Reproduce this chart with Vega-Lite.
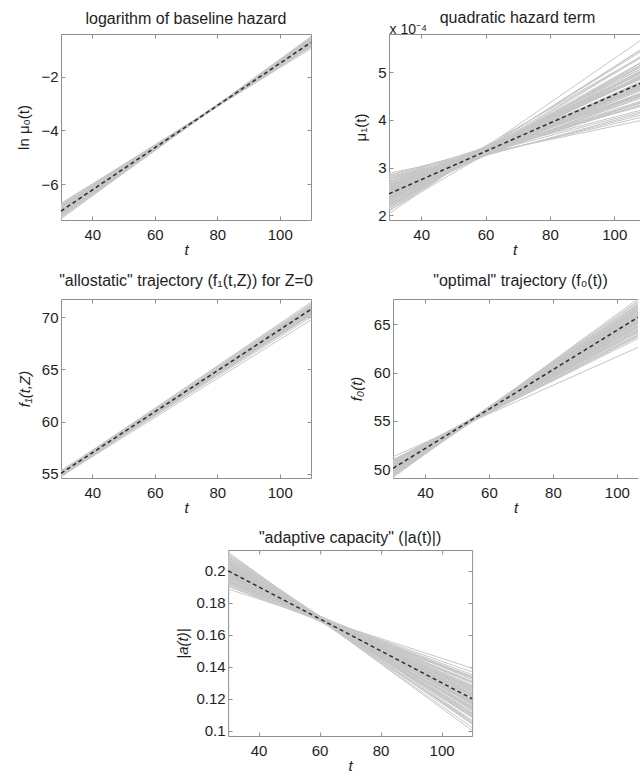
{
"$schema":"https://vega.github.io/schema/vega-lite/v6.json",
"padding":{"left":16,"top":9,"right":0,"bottom":0},
"datasets":{
"p1":[{"t0":30,"t1":110,"y0":-7.285,"y1":-0.505},{"t0":30,"t1":110,"y0":-7.24,"y1":-0.60},{"t0":30,"t1":110,"y0":-7.21,"y1":-0.57},{"t0":30,"t1":110,"y0":-7.19,"y1":-0.545},{"t0":30,"t1":110,"y0":-7.165,"y1":-0.625},{"t0":30,"t1":110,"y0":-7.15,"y1":-0.585},{"t0":30,"t1":110,"y0":-7.135,"y1":-0.68},{"t0":30,"t1":110,"y0":-7.12,"y1":-0.635},{"t0":30,"t1":110,"y0":-7.105,"y1":-0.605},{"t0":30,"t1":110,"y0":-7.09,"y1":-0.69},{"t0":30,"t1":110,"y0":-7.075,"y1":-0.65},{"t0":30,"t1":110,"y0":-7.068,"y1":-0.685},{"t0":30,"t1":110,"y0":-7.06,"y1":-0.64},{"t0":30,"t1":110,"y0":-7.045,"y1":-0.735},{"t0":30,"t1":110,"y0":-7.038,"y1":-0.68},{"t0":30,"t1":110,"y0":-7.03,"y1":-0.725},{"t0":30,"t1":110,"y0":-7.022,"y1":-0.675},{"t0":30,"t1":110,"y0":-7.015,"y1":-0.71},{"t0":30,"t1":110,"y0":-7.008,"y1":-0.75},{"t0":30,"t1":110,"y0":-7.0,"y1":-0.67},{"t0":30,"t1":110,"y0":-6.992,"y1":-0.745},{"t0":30,"t1":110,"y0":-6.985,"y1":-0.72},{"t0":30,"t1":110,"y0":-6.978,"y1":-0.785},{"t0":30,"t1":110,"y0":-6.97,"y1":-0.705},{"t0":30,"t1":110,"y0":-6.955,"y1":-0.755},{"t0":30,"t1":110,"y0":-6.948,"y1":-0.73},{"t0":30,"t1":110,"y0":-6.94,"y1":-0.80},{"t0":30,"t1":110,"y0":-6.925,"y1":-0.725},{"t0":30,"t1":110,"y0":-6.918,"y1":-0.79},{"t0":30,"t1":110,"y0":-6.902,"y1":-0.78},{"t0":30,"t1":110,"y0":-6.895,"y1":-0.82},{"t0":30,"t1":110,"y0":-6.88,"y1":-0.78},{"t0":30,"t1":110,"y0":-6.865,"y1":-0.76},{"t0":30,"t1":110,"y0":-6.85,"y1":-0.865},{"t0":30,"t1":110,"y0":-6.835,"y1":-0.815},{"t0":30,"t1":110,"y0":-6.82,"y1":-0.85},{"t0":30,"t1":110,"y0":-6.798,"y1":-0.815},{"t0":30,"t1":110,"y0":-6.775,"y1":-0.895},{"t0":30,"t1":110,"y0":-6.745,"y1":-0.86},{"t0":30,"t1":110,"y0":-6.708,"y1":-0.95}],
"p1m":[{"t0":30,"t1":110,"y0":-7.0,"y1":-0.72}],
"p2":[{"t0":30,"t1":110,"y0":2.032,"y1":5.75},{"t0":30,"t1":110,"y0":2.098,"y1":5.55},{"t0":30,"t1":110,"y0":2.142,"y1":5.372},{"t0":30,"t1":110,"y0":2.175,"y1":5.395},{"t0":30,"t1":110,"y0":2.208,"y1":5.208},{"t0":30,"t1":110,"y0":2.23,"y1":5.27},{"t0":30,"t1":110,"y0":2.252,"y1":5.062},{"t0":30,"t1":110,"y0":2.274,"y1":5.134},{"t0":30,"t1":110,"y0":2.296,"y1":5.176},{"t0":30,"t1":110,"y0":2.318,"y1":4.988},{"t0":30,"t1":110,"y0":2.34,"y1":5.05},{"t0":30,"t1":110,"y0":2.351,"y1":4.971},{"t0":30,"t1":110,"y0":2.362,"y1":5.052},{"t0":30,"t1":110,"y0":2.384,"y1":4.844},{"t0":30,"t1":110,"y0":2.395,"y1":4.945},{"t0":30,"t1":110,"y0":2.406,"y1":4.846},{"t0":30,"t1":110,"y0":2.417,"y1":4.937},{"t0":30,"t1":110,"y0":2.428,"y1":4.858},{"t0":30,"t1":110,"y0":2.439,"y1":4.769},{"t0":30,"t1":110,"y0":2.45,"y1":4.92},{"t0":30,"t1":110,"y0":2.461,"y1":4.761},{"t0":30,"t1":110,"y0":2.472,"y1":4.802},{"t0":30,"t1":110,"y0":2.483,"y1":4.663},{"t0":30,"t1":110,"y0":2.494,"y1":4.814},{"t0":30,"t1":110,"y0":2.516,"y1":4.696},{"t0":30,"t1":110,"y0":2.527,"y1":4.737},{"t0":30,"t1":110,"y0":2.538,"y1":4.588},{"t0":30,"t1":110,"y0":2.56,"y1":4.72},{"t0":30,"t1":110,"y0":2.571,"y1":4.581},{"t0":30,"t1":110,"y0":2.593,"y1":4.583},{"t0":30,"t1":110,"y0":2.604,"y1":4.494},{"t0":30,"t1":110,"y0":2.626,"y1":4.556},{"t0":30,"t1":110,"y0":2.648,"y1":4.578},{"t0":30,"t1":110,"y0":2.67,"y1":4.35},{"t0":30,"t1":110,"y0":2.692,"y1":4.432},{"t0":30,"t1":110,"y0":2.714,"y1":4.344},{"t0":30,"t1":110,"y0":2.747,"y1":4.387},{"t0":30,"t1":110,"y0":2.78,"y1":4.2},{"t0":30,"t1":110,"y0":2.824,"y1":4.234},{"t0":30,"t1":110,"y0":2.879,"y1":4.009},
{"t0":30,"t1":110,"y0":2.095,"y1":5.26},{"t0":30,"t1":110,"y0":2.102,"y1":5.54},{"t0":30,"t1":110,"y0":2.212,"y1":5.214},{"t0":30,"t1":110,"y0":2.15,"y1":5.501},{"t0":30,"t1":110,"y0":2.231,"y1":5.044},{"t0":30,"t1":110,"y0":2.187,"y1":5.256},{"t0":30,"t1":110,"y0":2.287,"y1":5.393},{"t0":30,"t1":110,"y0":2.327,"y1":4.98},{"t0":30,"t1":110,"y0":2.277,"y1":5.092},{"t0":30,"t1":110,"y0":2.335,"y1":4.779},{"t0":30,"t1":110,"y0":2.296,"y1":5.177},{"t0":30,"t1":110,"y0":2.394,"y1":4.93},{"t0":30,"t1":110,"y0":2.367,"y1":5.078},{"t0":30,"t1":110,"y0":2.442,"y1":4.726},{"t0":30,"t1":110,"y0":2.378,"y1":5.129},{"t0":30,"t1":110,"y0":2.428,"y1":4.938},{"t0":30,"t1":110,"y0":2.382,"y1":4.716},{"t0":30,"t1":110,"y0":2.492,"y1":4.95},{"t0":30,"t1":110,"y0":2.434,"y1":4.753},{"t0":30,"t1":110,"y0":2.484,"y1":5.012},{"t0":30,"t1":110,"y0":2.468,"y1":4.565},{"t0":30,"t1":110,"y0":2.44,"y1":4.774},{"t0":30,"t1":110,"y0":2.538,"y1":4.902},{"t0":30,"t1":110,"y0":2.48,"y1":4.561},{"t0":30,"t1":110,"y0":2.524,"y1":4.964},{"t0":30,"t1":110,"y0":2.46,"y1":4.673},{"t0":30,"t1":110,"y0":2.57,"y1":4.751},{"t0":30,"t1":110,"y0":2.519,"y1":4.524},{"t0":30,"t1":110,"y0":2.588,"y1":4.797},{"t0":30,"t1":110,"y0":2.636,"y1":4.392},{"t0":30,"t1":110,"y0":2.552,"y1":4.612},{"t0":30,"t1":110,"y0":2.621,"y1":4.76},{"t0":30,"t1":110,"y0":2.613,"y1":4.397},{"t0":30,"t1":110,"y0":2.701,"y1":4.584},{"t0":30,"t1":110,"y0":2.699,"y1":4.171},{"t0":30,"t1":110,"y0":2.649,"y1":4.408},{"t0":30,"t1":110,"y0":2.762,"y1":4.534},{"t0":30,"t1":110,"y0":2.75,"y1":4.13},{"t0":30,"t1":110,"y0":2.838,"y1":4.312},{"t0":30,"t1":110,"y0":2.808,"y1":4.078}],
"p2m":[{"t0":30,"t1":110,"y0":2.45,"y1":4.82}],
"p3":[{"t0":30,"t1":110,"y0":54.715,"y1":70.495},{"t0":30,"t1":110,"y0":54.76,"y1":69.75},{"t0":30,"t1":110,"y0":54.79,"y1":70.46},{"t0":30,"t1":110,"y0":54.81,"y1":70.85},{"t0":30,"t1":110,"y0":54.835,"y1":70.295},{"t0":30,"t1":110,"y0":54.85,"y1":70.765},{"t0":30,"t1":110,"y0":54.865,"y1":70.02},{"t0":30,"t1":110,"y0":54.88,"y1":70.535},{"t0":30,"t1":110,"y0":54.895,"y1":70.915},{"t0":30,"t1":110,"y0":54.91,"y1":70.26},{"t0":30,"t1":110,"y0":54.925,"y1":70.73},{"t0":30,"t1":110,"y0":54.93,"y1":70.47},{"t0":30,"t1":110,"y0":54.94,"y1":70.93},{"t0":30,"t1":110,"y0":54.955,"y1":70.185},{"t0":30,"t1":110,"y0":54.96,"y1":70.735},{"t0":30,"t1":110,"y0":54.97,"y1":70.385},{"t0":30,"t1":110,"y0":54.98,"y1":70.89},{"t0":30,"t1":110,"y0":54.985,"y1":70.63},{"t0":30,"t1":110,"y0":54.99,"y1":70.325},{"t0":30,"t1":110,"y0":55.0,"y1":71.1},{"t0":30,"t1":110,"y0":55.01,"y1":70.48},{"t0":30,"t1":110,"y0":55.015,"y1":70.76},{"t0":30,"t1":110,"y0":55.02,"y1":70.23},{"t0":30,"t1":110,"y0":55.03,"y1":71.005},{"t0":30,"t1":110,"y0":55.045,"y1":70.665},{"t0":30,"t1":110,"y0":55.05,"y1":70.945},{"t0":30,"t1":110,"y0":55.06,"y1":70.37},{"t0":30,"t1":110,"y0":55.075,"y1":71.155},{"t0":30,"t1":110,"y0":55.08,"y1":70.625},{"t0":30,"t1":110,"y0":55.1,"y1":70.825},{"t0":30,"t1":110,"y0":55.105,"y1":70.52},{"t0":30,"t1":110,"y0":55.12,"y1":70.99},{"t0":30,"t1":110,"y0":55.135,"y1":71.45},{"t0":30,"t1":110,"y0":55.15,"y1":70.445},{"t0":30,"t1":110,"y0":55.165,"y1":71.005},{"t0":30,"t1":110,"y0":55.18,"y1":70.8},{"t0":30,"t1":110,"y0":55.2,"y1":71.28},{"t0":30,"t1":110,"y0":55.225,"y1":70.725},{"t0":30,"t1":110,"y0":55.255,"y1":71.26},{"t0":30,"t1":110,"y0":55.29,"y1":70.725}],
"p3m":[{"t0":30,"t1":110,"y0":55.04,"y1":70.77}],
"p4":[{"t0":30,"t1":110,"y0":49.15,"y1":68.44},{"t0":30,"t1":110,"y0":49.3,"y1":67.72},{"t0":30,"t1":110,"y0":49.4,"y1":67.8},{"t0":30,"t1":110,"y0":49.475,"y1":67.875},{"t0":30,"t1":110,"y0":49.55,"y1":67.32},{"t0":30,"t1":110,"y0":49.6,"y1":67.51},{"t0":30,"t1":110,"y0":49.65,"y1":66.89},{"t0":30,"t1":110,"y0":49.7,"y1":67.11},{"t0":30,"t1":110,"y0":49.75,"y1":67.24},{"t0":30,"t1":110,"y0":49.8,"y1":66.68},{"t0":30,"t1":110,"y0":49.85,"y1":66.87},{"t0":30,"t1":110,"y0":49.875,"y1":66.635},{"t0":30,"t1":110,"y0":49.9,"y1":66.88},{"t0":30,"t1":110,"y0":49.95,"y1":66.26},{"t0":30,"t1":110,"y0":49.975,"y1":66.565},{"t0":30,"t1":110,"y0":50.0,"y1":66.27},{"t0":30,"t1":110,"y0":50.025,"y1":66.545},{"t0":30,"t1":110,"y0":50.05,"y1":66.31},{"t0":30,"t1":110,"y0":50.075,"y1":66.045},{"t0":30,"t1":110,"y0":50.1,"y1":66.5},{"t0":30,"t1":110,"y0":50.125,"y1":66.025},{"t0":30,"t1":110,"y0":50.15,"y1":66.15},{"t0":30,"t1":110,"y0":50.175,"y1":65.735},{"t0":30,"t1":110,"y0":50.2,"y1":66.19},{"t0":30,"t1":110,"y0":50.25,"y1":65.84},{"t0":30,"t1":110,"y0":50.275,"y1":65.965},{"t0":30,"t1":110,"y0":50.3,"y1":65.52},{"t0":30,"t1":110,"y0":50.35,"y1":65.92},{"t0":30,"t1":110,"y0":50.375,"y1":65.505},{"t0":30,"t1":110,"y0":50.425,"y1":65.515},{"t0":30,"t1":110,"y0":50.45,"y1":65.25},{"t0":30,"t1":110,"y0":50.5,"y1":65.44},{"t0":30,"t1":110,"y0":50.55,"y1":65.51},{"t0":30,"t1":110,"y0":50.6,"y1":64.83},{"t0":30,"t1":110,"y0":50.65,"y1":65.08},{"t0":30,"t1":110,"y0":50.7,"y1":64.82},{"t0":30,"t1":110,"y0":50.775,"y1":64.955},{"t0":30,"t1":110,"y0":50.85,"y1":64.4},{"t0":30,"t1":110,"y0":50.95,"y1":64.51},{"t0":30,"t1":110,"y0":51.3,"y1":63.1},
{"t0":30,"t1":110,"y0":49.285,"y1":67.585},{"t0":30,"t1":110,"y0":49.314,"y1":68.21},{"t0":30,"t1":110,"y0":49.546,"y1":67.39},{"t0":30,"t1":110,"y0":49.428,"y1":68.06},{"t0":30,"t1":110,"y0":49.599,"y1":66.935},{"t0":30,"t1":110,"y0":49.517,"y1":67.425},{"t0":30,"t1":110,"y0":49.723,"y1":67.735},{"t0":30,"t1":110,"y0":49.809,"y1":66.725},{"t0":30,"t1":110,"y0":49.715,"y1":66.975},{"t0":30,"t1":110,"y0":49.837,"y1":66.205},{"t0":30,"t1":110,"y0":49.764,"y1":67.148},{"t0":30,"t1":110,"y0":49.962,"y1":66.542},{"t0":30,"t1":110,"y0":49.913,"y1":66.885},{"t0":30,"t1":110,"y0":50.068,"y1":66.028},{"t0":30,"t1":110,"y0":49.942,"y1":66.982},{"t0":30,"t1":110,"y0":50.046,"y1":66.518},{"t0":30,"t1":110,"y0":49.956,"y1":65.972},{"t0":30,"t1":110,"y0":50.18,"y1":66.528},{"t0":30,"t1":110,"y0":50.066,"y1":66.042},{"t0":30,"t1":110,"y0":50.17,"y1":66.658},{"t0":30,"t1":110,"y0":50.14,"y1":65.572},{"t0":30,"t1":110,"y0":50.088,"y1":66.068},{"t0":30,"t1":110,"y0":50.286,"y1":66.362},{"t0":30,"t1":110,"y0":50.174,"y1":65.538},{"t0":30,"t1":110,"y0":50.264,"y1":66.492},{"t0":30,"t1":110,"y0":50.14,"y1":65.788},{"t0":30,"t1":110,"y0":50.362,"y1":65.962},{"t0":30,"t1":110,"y0":50.265,"y1":65.405},{"t0":30,"t1":110,"y0":50.408,"y1":66.048},{"t0":30,"t1":110,"y0":50.508,"y1":65.06},{"t0":30,"t1":110,"y0":50.344,"y1":65.572},{"t0":30,"t1":110,"y0":50.487,"y1":65.915},{"t0":30,"t1":110,"y0":50.477,"y1":65.025},{"t0":30,"t1":110,"y0":50.659,"y1":65.455},{"t0":30,"t1":110,"y0":50.661,"y1":64.445},{"t0":30,"t1":110,"y0":50.567,"y1":64.995},{"t0":30,"t1":110,"y0":50.8,"y1":65.272},{"t0":30,"t1":110,"y0":50.786,"y1":64.278},{"t0":30,"t1":110,"y0":50.972,"y1":64.68},{"t0":30,"t1":110,"y0":50.926,"y1":64.078}],
"p4m":[{"t0":30,"t1":110,"y0":50.1,"y1":66.4}],
"p5":[{"t0":30,"t1":110,"y0":0.1886,"y1":0.1391},{"t0":30,"t1":110,"y0":0.1904,"y1":0.1336},{"t0":30,"t1":110,"y0":0.1916,"y1":0.1337},{"t0":30,"t1":110,"y0":0.1925,"y1":0.1339},{"t0":30,"t1":110,"y0":0.1934,"y1":0.1298},{"t0":30,"t1":110,"y0":0.194,"y1":0.1309},{"t0":30,"t1":110,"y0":0.1946,"y1":0.1266},{"t0":30,"t1":110,"y0":0.1952,"y1":0.1278},{"t0":30,"t1":110,"y0":0.1958,"y1":0.1285},{"t0":30,"t1":110,"y0":0.1964,"y1":0.1245},{"t0":30,"t1":110,"y0":0.197,"y1":0.1256},{"t0":30,"t1":110,"y0":0.1973,"y1":0.1239},{"t0":30,"t1":110,"y0":0.1976,"y1":0.1254},{"t0":30,"t1":110,"y0":0.1982,"y1":0.1211},{"t0":30,"t1":110,"y0":0.1985,"y1":0.123},{"t0":30,"t1":110,"y0":0.1988,"y1":0.1209},{"t0":30,"t1":110,"y0":0.1991,"y1":0.1226},{"t0":30,"t1":110,"y0":0.1994,"y1":0.121},{"t0":30,"t1":110,"y0":0.1997,"y1":0.1191},{"t0":30,"t1":110,"y0":0.2,"y1":0.122},{"t0":30,"t1":110,"y0":0.2003,"y1":0.1187},{"t0":30,"t1":110,"y0":0.2006,"y1":0.1195},{"t0":30,"t1":110,"y0":0.2009,"y1":0.1166},{"t0":30,"t1":110,"y0":0.2012,"y1":0.1195},{"t0":30,"t1":110,"y0":0.2018,"y1":0.117},{"t0":30,"t1":110,"y0":0.2021,"y1":0.1177},{"t0":30,"t1":110,"y0":0.2024,"y1":0.1146},{"t0":30,"t1":110,"y0":0.203,"y1":0.1171},{"t0":30,"t1":110,"y0":0.2033,"y1":0.1142},{"t0":30,"t1":110,"y0":0.2039,"y1":0.114},{"t0":30,"t1":110,"y0":0.2042,"y1":0.1121},{"t0":30,"t1":110,"y0":0.2048,"y1":0.1132},{"t0":30,"t1":110,"y0":0.2054,"y1":0.1135},{"t0":30,"t1":110,"y0":0.206,"y1":0.1087},{"t0":30,"t1":110,"y0":0.2066,"y1":0.1102},{"t0":30,"t1":110,"y0":0.2072,"y1":0.1082},{"t0":30,"t1":110,"y0":0.2081,"y1":0.1088},{"t0":30,"t1":110,"y0":0.209,"y1":0.1048},{"t0":30,"t1":110,"y0":0.2102,"y1":0.1051},{"t0":30,"t1":110,"y0":0.2117,"y1":0.1001},
{"t0":30,"t1":110,"y0":0.1903,"y1":0.133},{"t0":30,"t1":110,"y0":0.1906,"y1":0.1367},{"t0":30,"t1":110,"y0":0.1934,"y1":0.1308},{"t0":30,"t1":110,"y0":0.1919,"y1":0.135},{"t0":30,"t1":110,"y0":0.194,"y1":0.1272},{"t0":30,"t1":110,"y0":0.193,"y1":0.1302},{"t0":30,"t1":110,"y0":0.1955,"y1":0.1321},{"t0":30,"t1":110,"y0":0.1966,"y1":0.1251},{"t0":30,"t1":110,"y0":0.1954,"y1":0.1266},{"t0":30,"t1":110,"y0":0.1969,"y1":0.1212},{"t0":30,"t1":110,"y0":0.1959,"y1":0.1274},{"t0":30,"t1":110,"y0":0.1984,"y1":0.1232},{"t0":30,"t1":110,"y0":0.1978,"y1":0.1253},{"t0":30,"t1":110,"y0":0.1997,"y1":0.1195},{"t0":30,"t1":110,"y0":0.1981,"y1":0.1257},{"t0":30,"t1":110,"y0":0.1994,"y1":0.1225},{"t0":30,"t1":110,"y0":0.1982,"y1":0.1187},{"t0":30,"t1":110,"y0":0.201,"y1":0.1224},{"t0":30,"t1":110,"y0":0.1996,"y1":0.119},{"t0":30,"t1":110,"y0":0.2009,"y1":0.123},{"t0":30,"t1":110,"y0":0.2005,"y1":0.1156},{"t0":30,"t1":110,"y0":0.1998,"y1":0.1189},{"t0":30,"t1":110,"y0":0.2023,"y1":0.1207},{"t0":30,"t1":110,"y0":0.2009,"y1":0.1151},{"t0":30,"t1":110,"y0":0.202,"y1":0.1213},{"t0":30,"t1":110,"y0":0.2004,"y1":0.1166},{"t0":30,"t1":110,"y0":0.2032,"y1":0.1176},{"t0":30,"t1":110,"y0":0.202,"y1":0.1137},{"t0":30,"t1":110,"y0":0.2037,"y1":0.1179},{"t0":30,"t1":110,"y0":0.205,"y1":0.1111},{"t0":30,"t1":110,"y0":0.2029,"y1":0.1143},{"t0":30,"t1":110,"y0":0.2047,"y1":0.1165},{"t0":30,"t1":110,"y0":0.2045,"y1":0.1103},{"t0":30,"t1":110,"y0":0.2068,"y1":0.113},{"t0":30,"t1":110,"y0":0.2068,"y1":0.106},{"t0":30,"t1":110,"y0":0.2056,"y1":0.1095},{"t0":30,"t1":110,"y0":0.2084,"y1":0.111},{"t0":30,"t1":110,"y0":0.2082,"y1":0.1041},{"t0":30,"t1":110,"y0":0.2105,"y1":0.1064},{"t0":30,"t1":110,"y0":0.2099,"y1":0.1019}],
"p5m":[{"t0":30,"t1":110,"y0":0.2,"y1":0.12}]
},
"vconcat":[
{"vconcat":[
{"hconcat":[
{"width":250,"height":186,"title":{"text":"logarithm of baseline hazard","offset":7},
"layer":[
{"data":{"name":"p1"},"mark":{"type":"rule","color":"#c6c6c6","strokeWidth":1},
"encoding":{"x":{"field":"t0","type":"quantitative","scale":{"domain":[30,110],"nice":false,"zero":false},"axis":{"values":[40,60,80,100],"title":"t","titleFontStyle":"italic"}},"x2":{"field":"t1"},
"y":{"field":"y0","type":"quantitative","scale":{"domain":[-7.33,-0.41],"nice":false,"zero":false},"axis":{"values":[-6,-4,-2],"title":"ln μ₀(t)"}},"y2":{"field":"y1"}}},
{"data":{"name":"p1m"},"mark":{"type":"rule","color":"#2b2b2b","strokeWidth":1.5,"strokeDash":[4,3]},
"encoding":{"x":{"field":"t0","type":"quantitative","axis":null},"x2":{"field":"t1"},"y":{"field":"y0","type":"quantitative","axis":null},"y2":{"field":"y1"}}},
{"data":{"name":"p1m"},"mark":{"type":"rule","opacity":0},
"encoding":{"x":{"field":"t0","type":"quantitative","axis":{"orient":"top","values":[40,60,80,100],"labels":false,"title":null}},"x2":{"field":"t1"},"y":{"field":"y0","type":"quantitative","axis":{"orient":"right","values":[-6,-4,-2],"labels":false,"title":null}},"y2":{"field":"y1"}}}
],
"resolve":{"axis":{"x":"independent","y":"independent"}}},
{"width":251,"height":186,"title":{"text":"quadratic hazard term","offset":-3,"dx":3},
"layer":[
{"data":{"name":"p2"},"mark":{"type":"rule","color":"#c6c6c6","strokeWidth":1,"clip":true},
"encoding":{"x":{"field":"t0","type":"quantitative","scale":{"domain":[30,108],"nice":false,"zero":false},"axis":{"values":[40,60,80,100],"title":"t","titleFontStyle":"italic"}},"x2":{"field":"t1"},
"y":{"field":"y0","type":"quantitative","scale":{"domain":[1.9,5.8],"nice":false,"zero":false},"axis":{"values":[2,3,4,5],"title":"μ₁(t)"}},"y2":{"field":"y1"}}},
{"data":{"name":"p2m"},"mark":{"type":"rule","color":"#2b2b2b","strokeWidth":1.5,"strokeDash":[4,3],"clip":true},
"encoding":{"x":{"field":"t0","type":"quantitative","axis":null},"x2":{"field":"t1"},"y":{"field":"y0","type":"quantitative","axis":null},"y2":{"field":"y1"}}},
{"data":{"name":"p2m"},"mark":{"type":"rule","opacity":0,"clip":true},
"encoding":{"x":{"field":"t0","type":"quantitative","axis":{"orient":"top","values":[40,60,80,100],"labels":false,"title":"x 10⁻⁴","titleAnchor":"start","titleFontSize":14,"titlePadding":-3}},"x2":{"field":"t1"},"y":{"field":"y0","type":"quantitative","axis":null},"y2":{"field":"y1"}}}
],
"resolve":{"axis":{"x":"independent","y":"independent"}}}
],"spacing":41},
{"hconcat":[
{"width":250,"height":179,"title":{"text":"\"allostatic\" trajectory (f₁(t,Z)) for Z=0","offset":10},
"layer":[
{"data":{"name":"p3"},"mark":{"type":"rule","color":"#c6c6c6","strokeWidth":1},
"encoding":{"x":{"field":"t0","type":"quantitative","scale":{"domain":[30,110],"nice":false,"zero":false},"axis":{"values":[40,60,80,100],"title":"t","titleFontStyle":"italic"}},"x2":{"field":"t1"},
"y":{"field":"y0","type":"quantitative","scale":{"domain":[54.59,71.76],"nice":false,"zero":false},"axis":{"values":[55,60,65,70],"title":"f₁(t,Z)","titleFontStyle":"italic"}},"y2":{"field":"y1"}}},
{"data":{"name":"p3m"},"mark":{"type":"rule","color":"#2b2b2b","strokeWidth":1.5,"strokeDash":[4,3]},
"encoding":{"x":{"field":"t0","type":"quantitative","axis":null},"x2":{"field":"t1"},"y":{"field":"y0","type":"quantitative","axis":null},"y2":{"field":"y1"}}},
{"data":{"name":"p3m"},"mark":{"type":"rule","opacity":0},
"encoding":{"x":{"field":"t0","type":"quantitative","axis":{"orient":"top","values":[40,60,80,100],"labels":false,"title":null}},"x2":{"field":"t1"},"y":{"field":"y0","type":"quantitative","axis":{"orient":"right","values":[55,60,65,70],"labels":false,"title":null}},"y2":{"field":"y1"}}}
],
"resolve":{"axis":{"x":"independent","y":"independent"}}},
{"width":245,"height":179,"title":{"text":"\"optimal\" trajectory (f₀(t))","offset":10,"dx":5},
"layer":[
{"data":{"name":"p4"},"mark":{"type":"rule","color":"#c6c6c6","strokeWidth":1,"clip":true},
"encoding":{"x":{"field":"t0","type":"quantitative","scale":{"domain":[30,106.6],"nice":false,"zero":false},"axis":{"values":[40,60,80,100],"title":"t","titleFontStyle":"italic"}},"x2":{"field":"t1"},
"y":{"field":"y0","type":"quantitative","scale":{"domain":[49.1,67.6],"nice":false,"zero":false},"axis":{"values":[50,55,60,65],"title":"f₀(t)","titleFontStyle":"italic"}},"y2":{"field":"y1"}}},
{"data":{"name":"p4m"},"mark":{"type":"rule","color":"#2b2b2b","strokeWidth":1.5,"strokeDash":[4,3],"clip":true},
"encoding":{"x":{"field":"t0","type":"quantitative","axis":null},"x2":{"field":"t1"},"y":{"field":"y0","type":"quantitative","axis":null},"y2":{"field":"y1"}}},
{"data":{"name":"p4m"},"mark":{"type":"rule","opacity":0,"clip":true},
"encoding":{"x":{"field":"t0","type":"quantitative","axis":{"orient":"top","values":[40,60,80,100],"labels":false,"title":null}},"x2":{"field":"t1"},"y":{"field":"y0","type":"quantitative","axis":null},"y2":{"field":"y1"}}}
],
"resolve":{"axis":{"x":"independent","y":"independent"}}}
],"spacing":36}
],"spacing":15},
{"width":244,"height":186,"title":{"text":"\"adaptive capacity\" (|a(t)|)","offset":4},
"layer":[
{"data":{"name":"p5"},"mark":{"type":"rule","color":"#c6c6c6","strokeWidth":1},
"encoding":{"x":{"field":"t0","type":"quantitative","scale":{"domain":[30,110],"nice":false,"zero":false},"axis":{"values":[40,60,80,100],"title":"t","titleFontStyle":"italic"}},"x2":{"field":"t1"},
"y":{"field":"y0","type":"quantitative","scale":{"domain":[0.0967,0.213],"nice":false,"zero":false},"axis":{"values":[0.1,0.12,0.14,0.16,0.18,0.2],"format":"~g","title":"|a(t)|","titleFontStyle":"italic","titlePadding":5}},"y2":{"field":"y1"}}},
{"data":{"name":"p5m"},"mark":{"type":"rule","color":"#2b2b2b","strokeWidth":1.5,"strokeDash":[4,3]},
"encoding":{"x":{"field":"t0","type":"quantitative","axis":null},"x2":{"field":"t1"},"y":{"field":"y0","type":"quantitative","axis":null},"y2":{"field":"y1"}}},
{"data":{"name":"p5m"},"mark":{"type":"rule","opacity":0},
"encoding":{"x":{"field":"t0","type":"quantitative","axis":{"orient":"top","values":[40,60,80,100],"labels":false,"title":null}},"x2":{"field":"t1"},"y":{"field":"y0","type":"quantitative","axis":{"orient":"right","values":[0.1,0.12,0.14,0.16,0.18,0.2],"labels":false,"title":null}},"y2":{"field":"y1"}}}
],
"resolve":{"axis":{"x":"independent","y":"independent"}}}
],
"spacing":14,
"center":true,
"config":{
"font":"Liberation Sans",
"view":{"stroke":null},
"axis":{"grid":false,"domainColor":"#8f8f8f","tickColor":"#8f8f8f","tickSize":-4,"labelFontSize":15,"labelColor":"#1e1e1e","labelFont":"Liberation Sans","labelFlush":false,"labelOverlap":false,"titleFont":"Liberation Sans","titleFontSize":15,"titleFontWeight":"normal","titleColor":"#1e1e1e"},
"axisX":{"labelPadding":11,"titlePadding":0},
"axisY":{"labelPadding":7,"titlePadding":9},
"title":{"font":"Liberation Sans","fontSize":16,"fontWeight":"normal","color":"#1e1e1e","frame":"group","anchor":"middle"}
}
}
